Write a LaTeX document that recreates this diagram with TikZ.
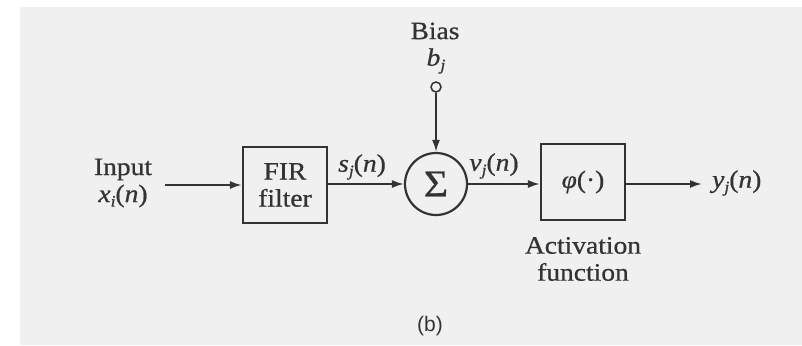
\documentclass[tikz,border=0pt]{standalone}
\usepackage{fontspec}
\setmainfont{Liberation Serif}[FakeStretch=1.1,FakeBold=0.7]
\newfontfamily\capfont{Liberation Sans}
\usetikzlibrary{arrows.meta}
\definecolor{ink}{HTML}{333333}
\definecolor{paper}{HTML}{F0F0F0}
% signal name with subscript index: \sigl{x}{i} -> x_i(n)
\newcommand\sigl[2]{\textit{#1}\raisebox{-0.4ex}{\fontsize{16}{16}\selectfont\textit{#2}}(\textit{n})}
\begin{document}
\begin{tikzpicture}[x=1pt,y=-1pt,
  every node/.style={text=ink,font=\fontsize{25}{27}\selectfont},
  blk/.style={draw=ink,line width=2.2pt,minimum width=84pt,minimum height=76pt,inner sep=0pt},
  wire/.style={draw=ink,line width=2pt,-{Latex[length=12pt,width=8pt]}},
  lbl/.style={inner sep=1pt,align=center}]
  \useasboundingbox (0,0) rectangle (802,345);
  \fill[white] (0,0) rectangle (802,345);
  \fill[paper] (20,7) rectangle (802,345);

  % input side
  \node[lbl] (inlbl) at (123,183) {Input\\\sigl{x}{i}};
  \coordinate (in) at (165,185);
  \node[blk,align=center] (fir) at (285,185) {FIR\\filter};

  % summing junction with bias
  \node[draw=ink,line width=2.2pt,circle,minimum size=62pt,inner sep=0pt] (sum) at (436,184)
       {\fontsize{38}{38}\selectfont Σ};
  \node[draw=ink,line width=1.5pt,circle,minimum size=10pt,inner sep=0pt] (bias) at (436,87) {};
  \node[lbl] (biaslbl) at (435,31) {Bias};
  \node[lbl] (blbl) at (436,61) {\textit{b}\raisebox{-0.4ex}{\fontsize{16}{16}\selectfont\textit{j}}};

  % activation
  \node[blk] (phi) at (583,182) {\textit{φ}(·)};
  \node[lbl] (actlbl) at (583,259) {Activation\\function};
  \coordinate (out) at (702,184);
  \node[lbl,anchor=west] (ylbl) at (711,183) {\sigl{y}{j}};

  % signal labels
  \node[lbl] (slbl) at (362,167) {\sigl{s}{j}};
  \node[lbl] (vlbl) at (494,166) {\sigl{v}{j}};

  % connectors
  \draw[wire] (in) -- (fir.west |- in);
  \draw[wire] (fir.east |- sum) -- (sum.west);
  \draw[wire] (bias) -- (sum.north);
  \draw[wire] (sum.east) -- (phi.west |- sum);
  \draw[wire] (phi.east |- out) -- (out);

  \node[font=\capfont\fontsize{21}{23}\selectfont] (cap) at (430,326) {(b)};
\end{tikzpicture}
\end{document}
